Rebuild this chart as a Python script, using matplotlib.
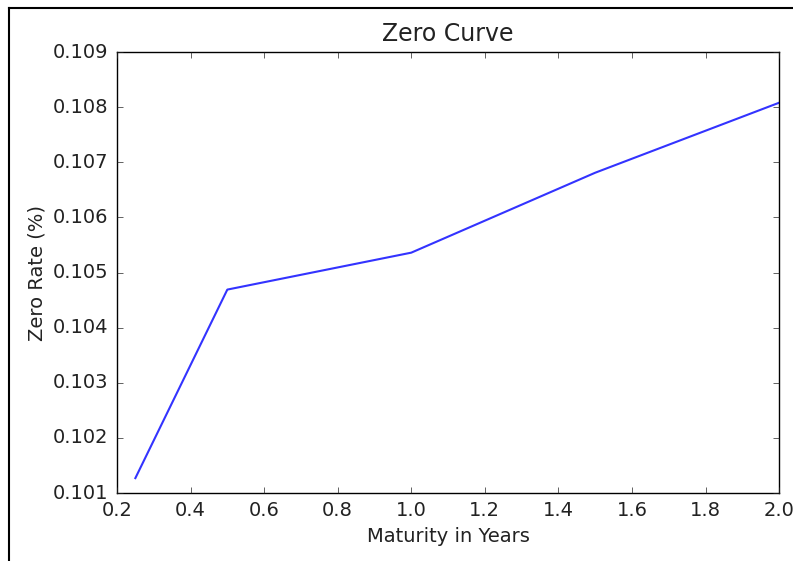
import matplotlib
matplotlib.use('Agg')
import matplotlib.pyplot as plt
from matplotlib.lines import Line2D

# Datos de la curva cero
maturities = [0.25, 0.5, 1.0, 1.5, 2.0]
zero_rates = [0.10127, 0.10469, 0.10536, 0.10681, 0.10808]

x_ticks = [0.2, 0.4, 0.6, 0.8, 1.0, 1.2, 1.4, 1.6, 1.8, 2.0]
y_ticks = [0.101, 0.102, 0.103, 0.104, 0.105, 0.106, 0.107, 0.108, 0.109]

plt.style.use('classic')
plt.rcParams['font.size'] = 14

fig = plt.figure(figsize=(7.93, 5.61), dpi=100, facecolor='white')
ax = fig.add_axes([0.1475, 0.1212, 0.835, 0.7861])
ax.plot(maturities, zero_rates, color='#3333ff', lw=1.5)

ax.set_xlim(0.2, 2.0)
ax.set_ylim(0.101, 0.109)
ax.set_xticks(x_ticks)
ax.set_yticks(y_ticks)
ax.set_xticklabels(['%.1f' % v for v in x_ticks])
ax.set_yticklabels(['%.3f' % v for v in y_ticks])
ax.tick_params(labelsize=14, pad=6, colors='#222222')
ax.set_title('Zero Curve', fontsize=17, pad=8, color='#222222')
ax.set_xlabel('Maturity in Years', fontsize=14, color='#222222')
ax.set_ylabel('Zero Rate (%)', fontsize=14, color='#222222')

# marco de la captura (izquierda y arriba)
fig.add_artist(Line2D([9 / 793, 9 / 793], [0, 1 - 8 / 561], color='black', lw=1.5))
fig.add_artist(Line2D([9 / 793, 1], [1 - 8 / 561, 1 - 8 / 561], color='black', lw=1.5))

fig.savefig('out.png', dpi=100, facecolor='white')
